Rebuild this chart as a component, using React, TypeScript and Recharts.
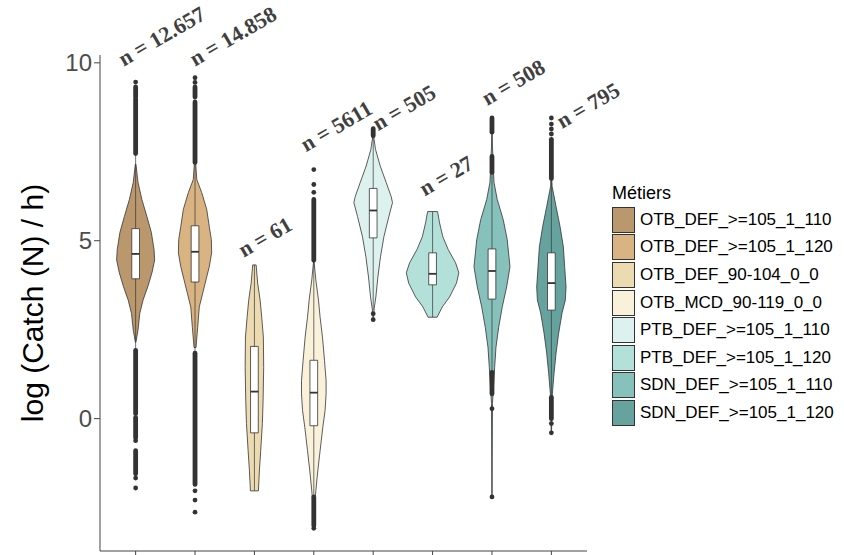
import React from 'react';
import { ComposedChart, Scatter, XAxis, YAxis } from 'recharts';

// fishing métiers, in plotting order
const metiers = [
  'OTB_DEF_>=105_1_110',
  'OTB_DEF_>=105_1_120',
  'OTB_DEF_90-104_0_0',
  'OTB_MCD_90-119_0_0',
  'PTB_DEF_>=105_1_110',
  'PTB_DEF_>=105_1_120',
  'SDN_DEF_>=105_1_110',
  'SDN_DEF_>=105_1_120'
];

const sampleSizes = ['n = 12.657', 'n = 14.858', 'n = 61', 'n = 5611', 'n = 505', 'n = 27', 'n = 508', 'n = 795'];

// BrBG palette, drawn at 60% opacity
const COLORS = ['#8c510a', '#bf812d', '#dfc27d', '#f6e8c3', '#c7eae5', '#80cdc1', '#35978f', '#01665e'];

// violin outlines: [log catch per hour, half width of the density in category units]
const violin1 = [[2.15, 0.005], [2.49, 0.04], [2.96, 0.07], [3.33, 0.125], [3.71, 0.205], [4.1, 0.275], [4.46, 0.32], [4.75, 0.31], [5.23, 0.265], [5.68, 0.19], [6.16, 0.105], [6.64, 0.04], [7.15, 0.005]];
const violin2 = [[2.0, 0.017], [2.57, 0.045], [3.14, 0.072], [3.53, 0.13], [3.9, 0.185], [4.27, 0.24], [4.66, 0.28], [5.03, 0.275], [5.4, 0.24], [5.88, 0.197], [6.35, 0.113], [6.72, 0.03], [7.2, 0.01]];
const violin3 = [[-2.03, 0.067], [-1.47, 0.084], [-0.9, 0.106], [-0.14, 0.134], [0.5, 0.146], [1.44, 0.156], [2.29, 0.151], [2.85, 0.123], [3.33, 0.096], [3.81, 0.055], [4.32, 0.029]];
const violin4 = [[-3.08, 0.002], [-2.4, 0.017], [-2.03, 0.034], [-1.47, 0.067], [-0.9, 0.106], [-0.25, 0.151], [0.23, 0.19], [0.7, 0.207], [1.07, 0.207], [1.64, 0.18], [2.29, 0.146], [2.85, 0.106], [3.33, 0.079], [3.9, 0.034], [4.4, 0.005]];
const violin5 = [[2.78, 0.002], [3.1, 0.017], [3.42, 0.045], [3.98, 0.079], [4.55, 0.123], [5.11, 0.18], [5.68, 0.264], [6.07, 0.325], [6.24, 0.303], [6.64, 0.218], [7.1, 0.118], [7.57, 0.039], [7.9, 0.01], [8.19, 0.003]];
const violin6 = [[2.85, 0.076], [3.14, 0.163], [3.42, 0.286], [3.81, 0.403], [4.1, 0.442], [4.38, 0.387], [4.75, 0.264], [5.11, 0.173], [5.5, 0.118], [5.82, 0.084]];
const violin7 = [[-2.2, 0.002], [0.42, 0.008], [0.88, 0.025], [1.44, 0.045], [2.0, 0.067], [2.57, 0.113], [3.14, 0.173], [3.7, 0.247], [4.27, 0.303], [5.03, 0.257], [5.59, 0.19], [6.16, 0.089], [6.64, 0.034], [7.66, 0.008], [8.45, 0.002]];
const violin8 = [[-0.4, 0.002], [0.7, 0.017], [1.27, 0.045], [1.84, 0.079], [2.4, 0.123], [2.97, 0.18], [3.33, 0.235], [3.7, 0.247], [4.27, 0.224], [4.83, 0.202], [5.4, 0.146], [5.96, 0.079], [6.53, 0.012], [7.0, 0.003]];
const violins = [violin1, violin2, violin3, violin4, violin5, violin6, violin7, violin8];

// boxplot statistics
const q1 = [3.93, 3.84, -0.4, -0.2, 5.08, 3.76, 3.36, 3.05];
const medians = [4.63, 4.69, 0.76, 0.73, 5.85, 4.07, 4.15, 3.81];
const q3 = [5.34, 5.42, 2.03, 1.64, 6.47, 4.66, 4.77, 4.66];
const whiskerLow = [1.92, 1.84, -2.03, -2.96, 3.05, 2.85, 1.24, 0.63];
const whiskerHigh = [7.45, 7.6, 4.32, 4.4, 7.9, 5.82, 6.88, 7.08];

// outliers: stretches where the points overlap into a solid column, plus single points
const outlierRuns = [
  [[7.45, 8.98], [9.04, 9.32], [0.14, 1.92], [-0.54, 0.03], [-1.55, -0.9]],
  [[7.2, 8.9], [9.04, 9.32], [-1.85, 1.84]],
  [],
  [[4.45, 6.16], [-3.0, -2.2]],
  [[7.95, 8.15]],
  [],
  [[8.05, 8.45], [6.92, 7.37], [0.7, 1.3]],
  [[6.75, 7.85], [0.0, 0.6]]
];
const outlierPoints = [
  [9.46, -0.62, -1.67, -1.95],
  [9.45, 9.58, -2.03, -2.29, -2.63],
  [],
  [7.0, 6.58, 6.36, -3.08],
  [2.95, 2.78],
  [],
  [0.28, -2.2],
  [8.0, 8.14, 8.28, 8.45, -0.14, -0.4]
];

// where each sample-size label starts
const labelY = [9.89, 9.89, 4.52, 7.49, 8.08, 6.24, 8.79, 8.14];
const labelShift = [-0.2, 0, -0.18, -0.13, 0.08, -0.13, -0.08, 0.18];

const BOX_HALF = 0.065;
const DARK = '#333333';
const SANS = "'Liberation Sans', Arial, sans-serif";
const SERIF = "'Liberation Serif', 'Times New Roman', serif";

const withAlpha = (hex: string, a: number) => {
  const n = parseInt(hex.slice(1), 16);
  return `rgba(${(n >> 16) & 255}, ${(n >> 8) & 255}, ${n & 255}, ${a})`;
};

const Empty = () => <g />;

const pathOf = (pts: { x: number; y: number }[], close: boolean) =>
  pts.map((p, k) => `${k ? 'L' : 'M'}${p.x},${p.y}`).join('') + (close ? 'Z' : '');

const polygon = (fill: string, opacity: number, strokeWidth: number) => (props: any) => (
  <path d={pathOf(props.points || [], true)} fill={fill} fillOpacity={opacity} stroke={DARK} strokeWidth={strokeWidth} strokeLinejoin="round" />
);

const segment = (width: number, cap: 'butt' | 'round') => (props: any) => (
  <path d={pathOf(props.points || [], false)} fill="none" stroke={DARK} strokeWidth={width} strokeLinecap={cap} />
);

const Dot = (props: any) => <circle cx={props.cx} cy={props.cy} r={2.4} fill={DARK} />;

const outline = (pos: number, profile: number[][]) => [
  ...profile.map(([y, w]) => ({ x: pos + w, y })),
  ...[...profile].reverse().map(([y, w]) => ({ x: pos - w, y }))
];

const YLabel = (props: any) => {
  const vb = props.viewBox;
  const x = vb.x + 43;
  const y = vb.y + vb.height / 2;
  return (
    <text x={x} y={y} transform={`rotate(-90 ${x} ${y})`} textAnchor="middle" fontSize={30} fontFamily={SANS} fill="#000">
      log (Catch (N) / h)
    </text>
  );
};

const CountLabel = (p: any) => (
  <text
    x={p.cx}
    y={p.cy}
    transform={`rotate(-30 ${p.cx} ${p.cy})`}
    fontSize={22}
    fontWeight="bold"
    fontFamily={SERIF}
    fill="#404040"
  >
    {p.payload.text}
  </text>
);

export default function App() {
  const series: React.ReactNode[] = [];

  metiers.forEach((_, i) => {
    const pos = i + 1;
    series.push(
      <Scatter key={`v${i}`} data={outline(pos, violins[i])} shape={Empty} line={polygon(COLORS[i], 0.6, 0.8)} isAnimationActive={false} />,
      <Scatter key={`w${i}`} data={[{ x: pos, y: whiskerLow[i] }, { x: pos, y: whiskerHigh[i] }]} shape={Empty} line={segment(0.7, 'butt')} isAnimationActive={false} />
    );
    outlierRuns[i].forEach(([a, b], k) => {
      series.push(
        <Scatter key={`r${i}-${k}`} data={[{ x: pos, y: a }, { x: pos, y: b }]} shape={Empty} line={segment(4.8, 'round')} isAnimationActive={false} />
      );
    });
    series.push(
      <Scatter key={`o${i}`} data={outlierPoints[i].map((y) => ({ x: pos, y }))} shape={Dot} isAnimationActive={false} />,
      <Scatter
        key={`b${i}`}
        data={[
          { x: pos - BOX_HALF, y: q1[i] },
          { x: pos + BOX_HALF, y: q1[i] },
          { x: pos + BOX_HALF, y: q3[i] },
          { x: pos - BOX_HALF, y: q3[i] }
        ]}
        shape={Empty}
        line={polygon('#ffffff', 1, 0.8)}
        isAnimationActive={false}
      />,
      <Scatter
        key={`m${i}`}
        data={[{ x: pos - BOX_HALF, y: medians[i] }, { x: pos + BOX_HALF, y: medians[i] }]}
        shape={Empty}
        line={segment(1.8, 'butt')}
        isAnimationActive={false}
      />
    );
  });

  const labelData = labelY.map((y, i) => ({ x: i + 1 + labelShift[i], y, text: sampleSizes[i] }));

  return (
    <div style={{ position: 'absolute', left: 0, top: 0, width: 844, height: 555, background: '#fff' }}>
      <ComposedChart width={844} height={555} margin={{ top: 55, right: 257, bottom: 0, left: 0 }}>
        <XAxis
          type="number"
          dataKey="x"
          domain={[0.4, 8.6]}
          ticks={[1, 2, 3, 4, 5, 6, 7, 8]}
          height={4}
          tickSize={5}
          tickFormatter={() => ''}
          stroke="#444"
        />
        <YAxis
          type="number"
          dataKey="y"
          domain={[-3.72, 10.22]}
          ticks={[0, 5, 10]}
          width={100}
          tickSize={6}
          tick={{ fill: '#4d4d4d', fontSize: 24, fontFamily: SANS }}
          stroke="#444"
          label={{ content: YLabel }}
        />
        {series}
        <Scatter data={labelData} isAnimationActive={false} shape={CountLabel} />
      </ComposedChart>

      <div style={{ position: 'absolute', left: 612, top: 181, fontFamily: SANS, color: '#000' }}>
        <div style={{ fontSize: 18, lineHeight: '24px', height: 25 }}>Métiers</div>
        {metiers.map((m, i) => (
          <div key={m} style={{ display: 'flex', alignItems: 'center', height: 27.6 }}>
            <div
              style={{
                width: 21,
                height: 24,
                border: `1px solid ${DARK}`,
                background: withAlpha(COLORS[i], 0.6),
                marginRight: 5
              }}
            />
            <span style={{ fontSize: 17, whiteSpace: 'nowrap' }}>{m}</span>
          </div>
        ))}
      </div>
    </div>
  );
}
